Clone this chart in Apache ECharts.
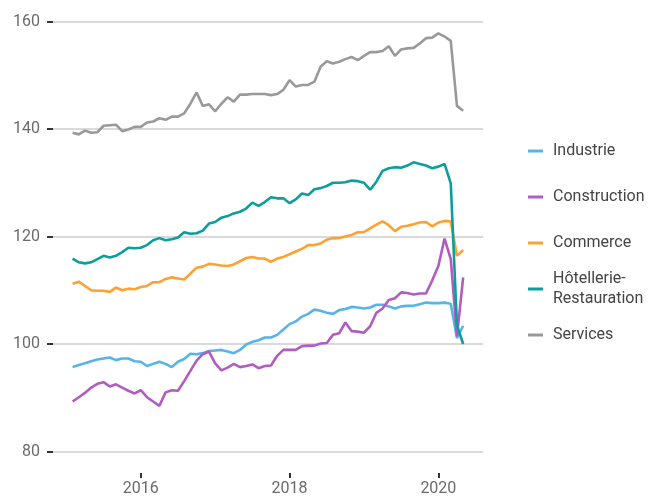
<!DOCTYPE html>
<html>
<head>
<meta charset="utf-8">
<script src="https://cdn.jsdelivr.net/npm/echarts@6/dist/echarts.min.js"></script>
<style>html,body{margin:0;padding:0;background:#fff}#c{width:651px;height:499px}</style>
</head>
<body>
<div id="c"></div>
<script>
// Monthly index, Feb 2015 .. May 2020
const startYear = 2015, startMonth = 2, nMonths = 64;
const months = [];
for (let i = 0; i < nMonths; i++) {
  const m = startMonth - 1 + i;
  months.push((startYear + Math.floor(m / 12)) + '-' + String(m % 12 + 1).padStart(2, '0'));
}
const seriesNames = ['Industrie', 'Construction', 'Commerce', 'Hôtellerie-Restauration', 'Services'];
const industrie = [95.7,96.1,96.4,96.8,97.1,97.3,97.5,97.0,97.3,97.3,96.8,96.7,95.9,96.3,96.7,96.3,95.7,96.7,97.2,98.2,98.1,98.3,98.7,98.8,98.9,98.6,98.3,98.9,99.9,100.4,100.7,101.2,101.2,101.7,102.7,103.7,104.2,105.1,105.6,106.4,106.2,105.8,105.6,106.3,106.5,106.9,106.8,106.6,106.8,107.3,107.3,107.0,106.6,107.0,107.1,107.1,107.4,107.7,107.6,107.6,107.7,107.5,101.1,103.4];
const construction = [89.3,90.1,90.9,91.9,92.6,92.9,92.1,92.5,91.9,91.3,90.8,91.4,90.1,89.3,88.5,91.0,91.4,91.3,93.1,95.0,96.9,98.1,98.6,96.4,95.1,95.6,96.3,95.7,95.9,96.2,95.5,95.9,96.0,97.8,98.9,98.9,98.9,99.6,99.7,99.7,100.1,100.2,101.7,102.0,104.0,102.4,102.3,102.1,103.3,105.8,106.6,108.2,108.5,109.6,109.5,109.2,109.4,109.4,111.8,114.5,119.6,115.8,101.4,112.4];
const commerce = [111.2,111.6,110.8,110.0,109.9,109.9,109.7,110.5,110.0,110.3,110.2,110.6,110.8,111.5,111.5,112.1,112.4,112.2,112.0,113.1,114.2,114.4,114.9,114.8,114.6,114.5,114.8,115.4,116.0,116.2,115.9,115.9,115.3,115.9,116.2,116.7,117.2,117.7,118.4,118.4,118.7,119.4,119.7,119.7,120.0,120.3,120.8,120.8,121.5,122.2,122.8,122.1,121.0,121.8,122.0,122.3,122.6,122.7,121.9,122.6,122.9,122.8,116.4,117.5];
const hotellerie = [115.9,115.2,115.0,115.2,115.8,116.4,116.1,116.4,117.1,117.9,117.8,117.9,118.4,119.3,119.7,119.3,119.5,119.8,120.8,120.5,120.6,121.1,122.4,122.7,123.5,123.8,124.3,124.6,125.2,126.3,125.7,126.4,127.3,127.1,127.1,126.2,126.9,128.0,127.7,128.8,129.0,129.4,130.0,130.0,130.1,130.4,130.3,130.0,128.7,130.2,132.2,132.7,132.9,132.8,133.2,133.8,133.5,133.2,132.7,133.0,133.5,129.9,103.5,100.0];
const services = [139.3,139.0,139.7,139.3,139.4,140.6,140.7,140.8,139.6,139.9,140.4,140.4,141.2,141.4,142.0,141.7,142.3,142.3,142.9,144.7,146.8,144.3,144.6,143.3,144.7,145.9,145.1,146.4,146.4,146.5,146.5,146.5,146.3,146.5,147.3,149.1,147.9,148.2,148.2,148.8,151.6,152.6,152.2,152.5,153.0,153.4,152.8,153.6,154.3,154.3,154.5,155.4,153.6,154.8,155.0,155.1,155.9,156.9,157.0,157.8,157.2,156.4,144.3,143.4];
const colors = ['#56b4e9', '#b05cc0', '#ffa033', '#0a9f9d', '#999999'];
const yTicks = [80, 100, 120, 140, 160];
const xTicks = [2016, 2018, 2020];

const allValues = [industrie, construction, commerce, hotellerie, services];
function toX(s) { const p = s.split('-'); return +p[0] + (+p[1] - 1) / 12; }

const legendCenters = [151, 197, 243, 289, 335];
const legends = seriesNames.map((n, i) => ({
  data: [n],
  orient: 'vertical',
  left: 528,
  top: legendCenters[i] - (i === 3 ? 20 : 10),
  padding: 0,
  itemWidth: 15,
  itemHeight: 3,
  icon: 'rect',
  selectedMode: false,
  formatter: name => name === 'Hôtellerie-Restauration' ? 'Hôtellerie-\nRestauration' : name,
  textStyle: { fontFamily: 'Roboto', fontSize: 16, color: '#444', lineHeight: 20, padding: [0, 0, 0, 5] }
}));

const chart = echarts.init(document.getElementById('c'), null, { renderer: 'canvas' });
chart.setOption({
  animation: false,
  color: colors,
  legend: legends,
  grid: { left: 53, right: 168, top: 10.75, bottom: 26, containLabel: false },
  xAxis: {
    type: 'value', min: 2014.82, max: 2020.6,
    axisLine: { show: false },
    splitLine: { show: false },
    axisTick: { show: true, length: 5, customValues: xTicks, lineStyle: { color: '#333', width: 2 } },
    axisLabel: { customValues: xTicks, margin: 8, fontFamily: 'Roboto', fontSize: 16, color: '#6b6b6b', formatter: v => String(v) }
  },
  yAxis: {
    type: 'value', min: 76, max: 162,
    axisLine: { show: false },
    axisTick: { show: true, length: 6, customValues: yTicks, lineStyle: { color: '#333', width: 2 } },
    axisLabel: { customValues: yTicks, margin: 13, fontFamily: 'Roboto', fontSize: 16, color: '#6b6b6b' },
    splitLine: { show: true, lineStyle: { color: '#dadada', width: 2 } }
  },
  series: seriesNames.map((n, i) => ({
    name: n, type: 'line', showSymbol: false, symbol: 'none',
    lineStyle: { width: 2.6, color: colors[i] },
    itemStyle: { color: colors[i] },
    data: months.map((m, j) => [toX(m), allValues[i][j]])
  }))
});
</script>
</body>
</html>
